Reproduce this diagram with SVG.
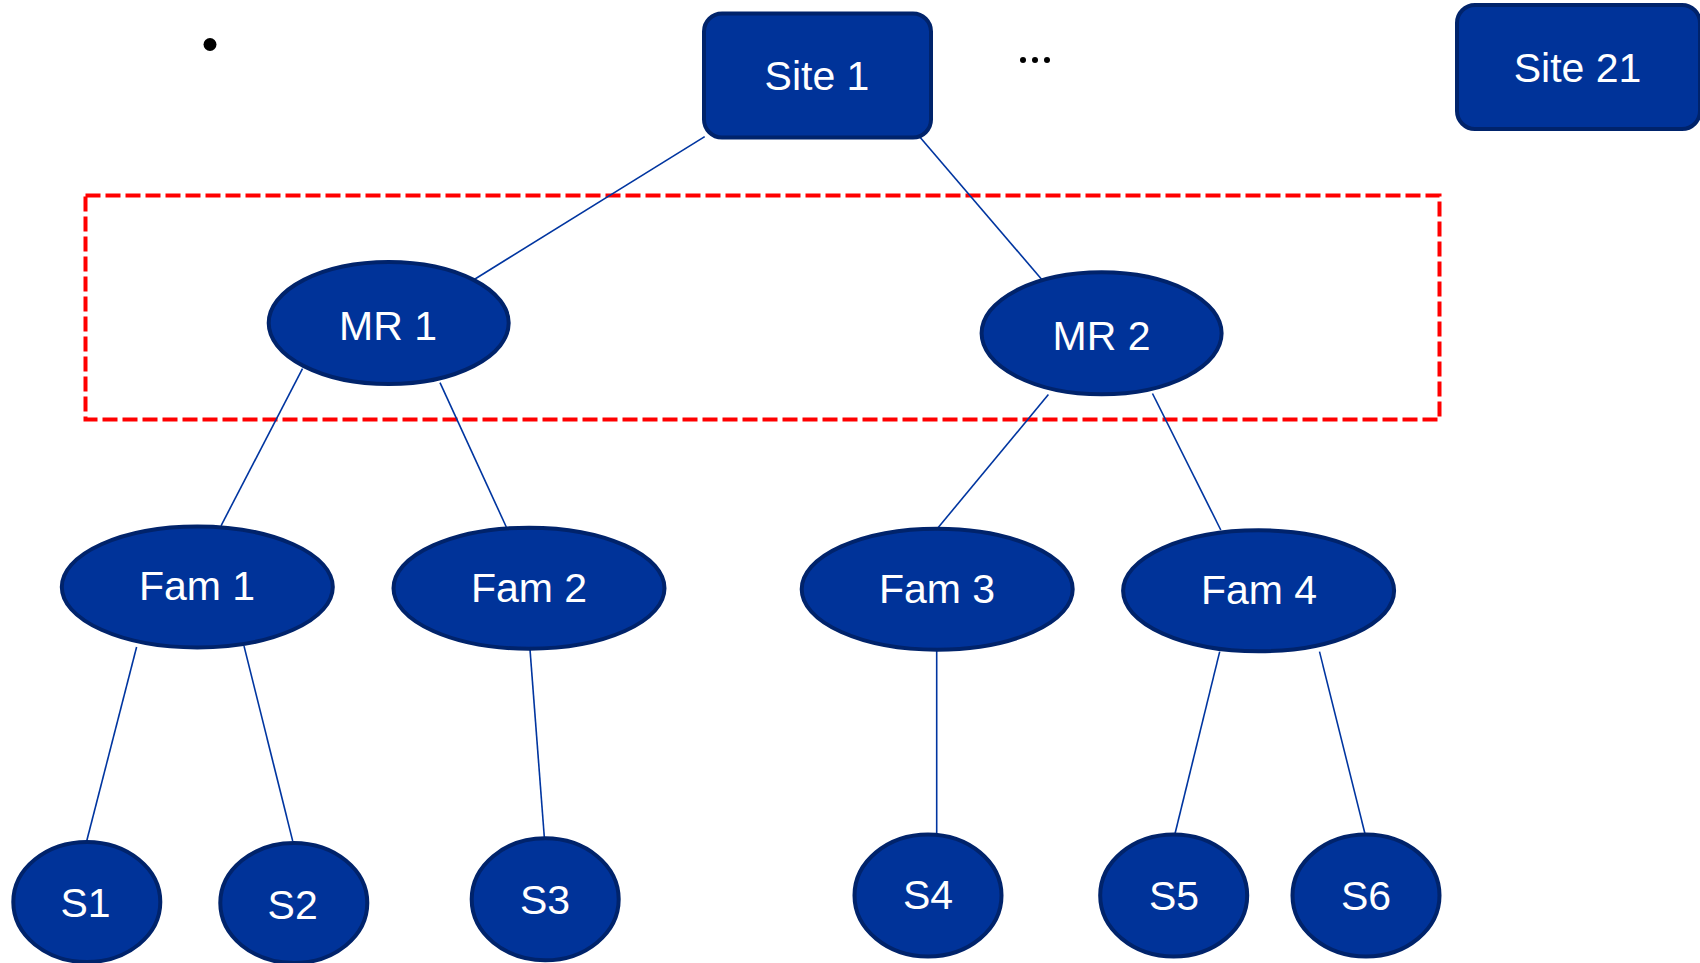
<svg xmlns="http://www.w3.org/2000/svg" width="1700" height="963" viewBox="0 0 1700 963">
<style>
.n{fill:#003399;stroke:#00236B;stroke-width:4}
.t{fill:#ffffff;font-family:"Liberation Sans",Arial,sans-serif;font-size:41px;text-anchor:middle}
.c line{stroke:#0035A0;stroke-width:1.6}
</style>
<rect width="1700" height="963" fill="#ffffff"/>
<circle cx="210" cy="44.5" r="6.5" fill="#000"/>
<g fill="#000"><circle cx="1023" cy="60" r="3"/><circle cx="1035" cy="60" r="3"/><circle cx="1047" cy="60" r="3"/></g>
<rect x="85.5" y="195.5" width="1354" height="224" fill="none" stroke="#FF0000" stroke-width="4" stroke-dasharray="15 5"/>
<g class="c">
<line x1="704.7" y1="136.6" x2="473.8" y2="279.7"/>
<line x1="919.4" y1="136.6" x2="1042" y2="279.7"/>
<line x1="302.5" y1="368.6" x2="221" y2="525.8"/>
<line x1="440" y1="382.7" x2="506.3" y2="527"/>
<line x1="1048.4" y1="394.6" x2="937.8" y2="528"/>
<line x1="1152.5" y1="393.5" x2="1220.8" y2="530"/>
<line x1="136.6" y1="647" x2="86.7" y2="841"/>
<line x1="244" y1="646" x2="292.7" y2="841"/>
<line x1="530" y1="649.4" x2="544.3" y2="837"/>
<line x1="936.7" y1="650.5" x2="936.7" y2="833.7"/>
<line x1="1219.7" y1="651.6" x2="1175" y2="833.7"/>
<line x1="1319.5" y1="651.6" x2="1365" y2="833.7"/>
</g>
<g id="site1"><rect class="n" x="704" y="13.5" width="227" height="124" rx="18"/><text class="t" x="817" y="89.5">Site 1</text></g>
<g id="site21"><rect class="n" x="1457" y="5" width="243" height="124" rx="18"/><text class="t" x="1577.5" y="82">Site 21</text></g>
<g id="mr1"><ellipse class="n" cx="388.7" cy="323" rx="120" ry="61"/><text class="t" x="388" y="339.5">MR 1</text></g>
<g id="mr2"><ellipse class="n" cx="1101.6" cy="333.3" rx="120" ry="61"/><text class="t" x="1101.5" y="349.5">MR 2</text></g>
<g id="fam1"><ellipse class="n" cx="197.3" cy="587" rx="135.5" ry="60.5"/><text class="t" x="197" y="600">Fam 1</text></g>
<g id="fam2"><ellipse class="n" cx="529" cy="588.2" rx="135.5" ry="60.5"/><text class="t" x="529" y="602">Fam 2</text></g>
<g id="fam3"><ellipse class="n" cx="937.2" cy="589.2" rx="135.5" ry="60.5"/><text class="t" x="937" y="603">Fam 3</text></g>
<g id="fam4"><ellipse class="n" cx="1258.6" cy="590.8" rx="135.5" ry="60.5"/><text class="t" x="1259" y="604">Fam 4</text></g>
<g id="s1"><ellipse class="n" cx="86.8" cy="902" rx="73.5" ry="60"/><text class="t" x="85.6" y="916.5">S1</text></g>
<g id="s2"><ellipse class="n" cx="293.8" cy="903" rx="73.5" ry="60"/><text class="t" x="292.7" y="918.5">S2</text></g>
<g id="s3"><ellipse class="n" cx="545.2" cy="899.3" rx="73.5" ry="61"/><text class="t" x="545" y="913.5">S3</text></g>
<g id="s4"><ellipse class="n" cx="928" cy="895.5" rx="73.5" ry="61"/><text class="t" x="928" y="909">S4</text></g>
<g id="s5"><ellipse class="n" cx="1173.7" cy="895.5" rx="73.5" ry="61"/><text class="t" x="1174" y="910">S5</text></g>
<g id="s6"><ellipse class="n" cx="1366" cy="895.5" rx="73.5" ry="61"/><text class="t" x="1366" y="910">S6</text></g>
</svg>
